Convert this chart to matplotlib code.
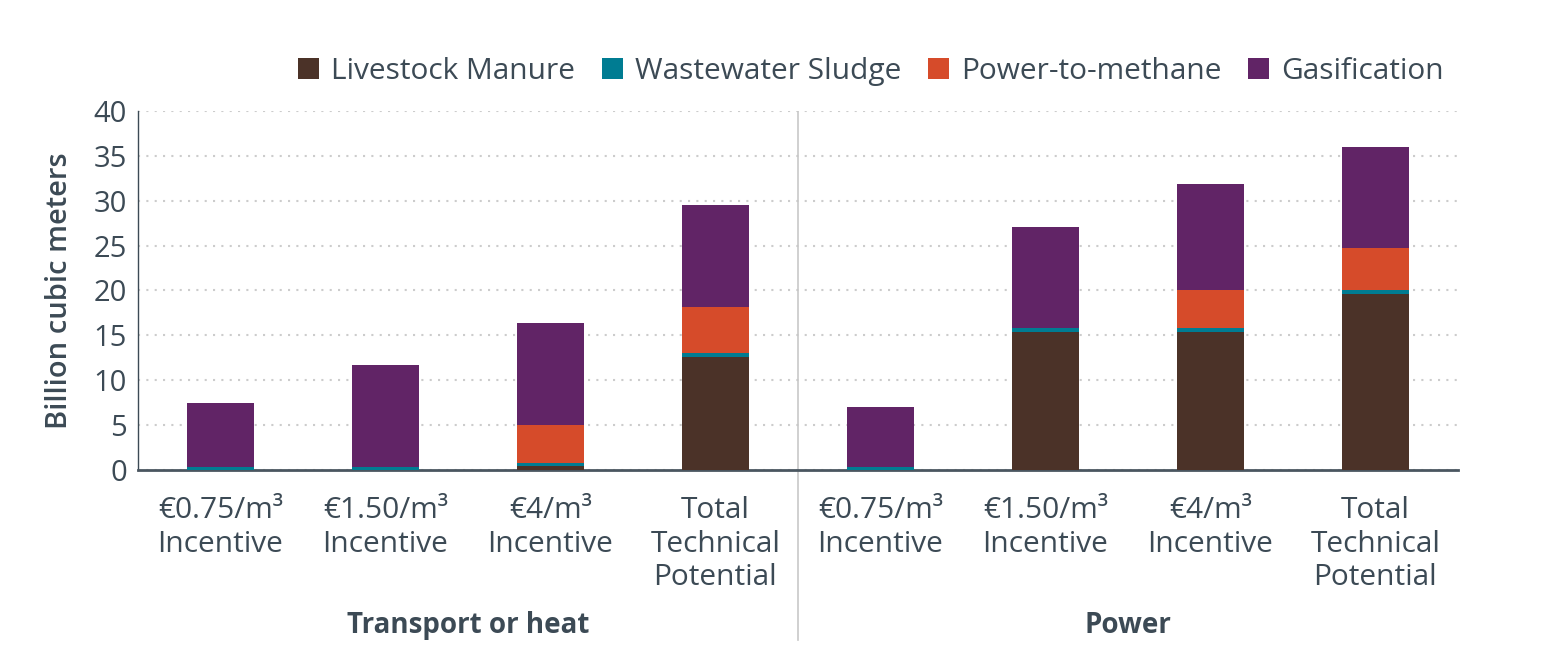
import matplotlib
matplotlib.use("Agg")
import matplotlib.pyplot as plt
import numpy as np

categories = ["€0.75/m³\nIncentive", "€1.50/m³\nIncentive", "€4/m³\nIncentive", "Total\nTechnical\nPotential",
              "€0.75/m³\nIncentive", "€1.50/m³\nIncentive", "€4/m³\nIncentive", "Total\nTechnical\nPotential"]
groups = ["Transport or heat", "Power"]
series_names = ["Livestock Manure", "Wastewater Sludge", "Power-to-methane", "Gasification"]
livestock_manure = [0.0, 0.0, 0.45, 12.6, 0.0, 15.4, 15.4, 19.6]
wastewater_sludge = [0.35, 0.35, 0.35, 0.45, 0.33, 0.4, 0.4, 0.45]
power_to_methane = [0.0, 0.0, 4.2, 5.1, 0.0, 0.0, 4.25, 4.65]
gasification = [7.1, 11.35, 11.4, 11.35, 6.7, 11.3, 11.85, 11.3]
colors = ["#4b3228", "#007c92", "#d64b2a", "#612466"]

text_color = "#3c4a55"
plt.rcParams['font.family'] = ['Open Sans', 'DejaVu Sans']

fig = plt.figure(figsize=(15.52, 6.65), dpi=100)
ax = fig.add_axes([0.0889, 0.2932, 0.8505, 0.54])

x = np.arange(len(categories))
bottom = np.zeros(len(categories))
handles = []
for name, vals, c in zip(series_names, [livestock_manure, wastewater_sludge, power_to_methane, gasification], colors):
    h = ax.bar(x, vals, bottom=bottom, width=0.41, color=c, label=name, zorder=3)
    handles.append(h)
    bottom += np.array(vals)

ax.set_xlim(-0.5, 7.5)
ax.set_ylim(0, 40)
ax.set_yticks(np.arange(0, 41, 5))
ax.yaxis.grid(True, linestyle=(0, (1, 3)), color="#cccccc", linewidth=1.5, zorder=0)
ax.set_axisbelow(True)
for s in ["top", "right"]:
    ax.spines[s].set_visible(False)
ax.spines["left"].set_color("#3c4a55")
ax.spines["left"].set_linewidth(1.0)
ax.spines["bottom"].set_color("#4a5660")
ax.spines["bottom"].set_linewidth(2)
ax.tick_params(axis="y", length=0, labelsize=21, labelcolor=text_color, pad=8)
ax.tick_params(axis="x", length=0, labelsize=21.5, labelcolor=text_color, pad=19)
ax.set_xticks(x)
ax.set_xticklabels(categories, linespacing=1.2)
ax.set_ylabel("Billion cubic meters", fontsize=21, color=text_color, fontweight="semibold", labelpad=14)

# divider between groups
ax.axvline(3.5, ymin=0, ymax=1, color="#c8c8c8", linewidth=1.2, zorder=1)
ax.plot([3.5, 3.5], [0, -0.474], transform=ax.get_xaxis_transform(), color="#c8c8c8", linewidth=1.2, clip_on=False)

for gi, g in enumerate(groups):
    ax.text(1.5 + 4 * gi, -0.432, g, transform=ax.get_xaxis_transform(), ha="center", va="center",
            fontsize=20, fontweight="bold", color=text_color)

leg = fig.legend(handles=handles, labels=series_names, loc="center right", bbox_to_anchor=(0.938, 0.892),
                 ncol=4, frameon=False, fontsize=21.5, handlelength=0.7, handleheight=0.7,
                 handletextpad=0.4, columnspacing=0.9, borderaxespad=0)
for t in leg.get_texts():
    t.set_color(text_color)

fig.savefig("out.png", dpi=100)
